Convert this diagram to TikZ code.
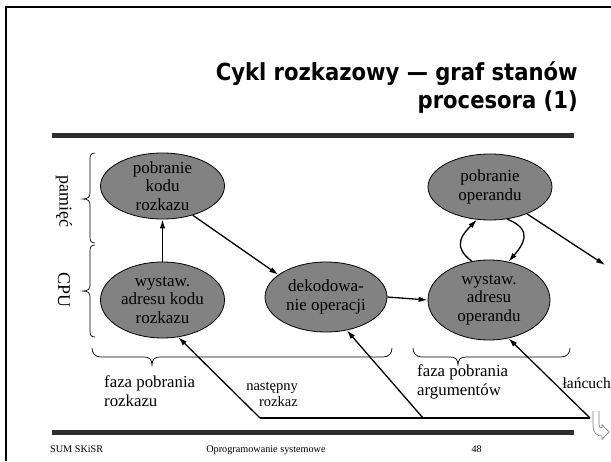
\documentclass[tikz,border=0pt]{standalone}
\usepackage{fontspec}
\setmainfont{Liberation Serif}
\newfontfamily\titlefont{DejaVu Sans Condensed Bold}
\usetikzlibrary{arrows.meta,shapes.geometric}
\definecolor{ellgray}{RGB}{130,130,130}
\definecolor{bargray}{RGB}{45,45,45}
\newcommand\vbr[4]{\draw[bracel] ({#1+5},#2) .. controls ({#1+1},#2) and (#1,{#2+2}) .. (#1,{#2+6}) -- (#1,{#3-6}) .. controls (#1,{#3-2}) and ({#1-2},#3) .. ({#1-7},#3) .. controls ({#1-2},#3) and (#1,{#3+2}) .. (#1,{#3+6}) -- (#1,{#4-6}) .. controls (#1,{#4-2}) and ({#1+1},#4) .. ({#1+5},#4);}
\newcommand\hbr[4]{\draw[bracel] (#1,#4) .. controls (#1,{#4+5}) and ({#1+3},{#4+9}) .. ({#1+9},{#4+9}) -- ({#2-8},{#4+9}) .. controls ({#2-3},{#4+9}) and (#2,{#4+11}) .. (#2,{#4+17}) .. controls (#2,{#4+11}) and ({#2+3},{#4+9}) .. ({#2+8},{#4+9}) -- ({#3-9},{#4+9}) .. controls ({#3-3},{#4+9}) and (#3,{#4+5}) .. (#3,#4);}
\begin{document}
\begin{tikzpicture}[x=1pt,y=-1pt,
  state/.style={ellipse, draw=black, line width=0.8pt, fill=ellgray, inner sep=0pt},
  txt/.style={align=center, inner sep=0pt, font=\fontsize{17}{18.5}\selectfont},
  conn/.style={line width=1.3pt, -{Latex[length=9pt,width=5.5pt]}},
  bracel/.style={line width=0.7pt},
  lbl/.style={inner sep=0pt, align=left, font=\fontsize{16.8}{18.5}\selectfont},
  lbls/.style={inner sep=0pt, align=right, font=\fontsize{14.5}{16}\selectfont},
  side/.style={inner sep=0pt, rotate=-90, font=\fontsize{18}{20}\selectfont},
  foot/.style={inner sep=0pt, font=\fontsize{10.2}{12}\selectfont},
  ttl/.style={inner sep=0pt, font=\titlefont\fontsize{23.5}{28}\selectfont}]
\useasboundingbox (0,0) rectangle (611,461);
\fill[white] (0,0) rectangle (611,461);
% frame
\draw[line width=2.2pt] (6,461) -- (6,7) -- (611,7);
% title
\node[ttl, anchor=base east] (t1) at (578,80) {Cykl rozkazowy — graf stanów};
\node[ttl, anchor=base east] (t2) at (578,108) {procesora (1)};
% bars
\fill[bargray] (52,133) rectangle (574,138);
\fill[bargray] (52,430) rectangle (574,435);
% footer
\node[foot, anchor=base west] (fa) at (50,452) {SUM SKiSR};
\node[foot, anchor=base] (fb) at (266,452) {Oprogramowanie systemowe};
\node[foot, anchor=base east] (fc) at (482,452) {48};
% states
\node[state, minimum width=124pt, minimum height=66pt] (p1) at (162.5,186) {};
\node[txt] at (p1) {pobranie\\kodu\\rozkazu};
\node[state, minimum width=124pt, minimum height=76pt] (w1) at (162.5,300) {};
\node[txt] at (w1) {wystaw.\\adresu kodu\\rozkazu};
\node[state, minimum width=122pt, minimum height=70pt] (dek) at (326,297) {};
\node[txt] at (dek) {dekodowa-\\nie operacji};
\node[state, minimum width=124pt, minimum height=66pt] (pop) at (490,187) {};
\node[txt] at (pop) {pobranie\\operandu};
\node[state, minimum width=122pt, minimum height=80pt] (wop) at (489,300) {};
\node[txt] at (wop) {wystaw.\\adresu\\operandu};
% connectors
\draw[conn] (w1.north) -- (p1.south);
\draw[conn] (p1.-44) -- (dek.155);
\draw[conn] (dek.east) -- (wop.west);
\draw[conn] (wop.114) .. controls (450,245) and (465,232) .. (pop.248);
\draw[conn] (pop.-62) .. controls (535,230) and (522,246) .. (wop.63);
\coordinate (fe) at (605,265);
\draw[conn] (pop.-36) -- (fe);
\coordinate (b1) at (260,418);
\coordinate (b2) at (423,418);
\coordinate (b3) at (590,418);
\draw[line width=1.3pt] (b1) -- (b3);
\draw[conn] (b1) -- (w1.-67);
\draw[conn] (b2) -- (dek.-58);
\draw[conn] (b3) -- (wop.-63);
% braces
\vbr{90}{153}{199}{243}
\vbr{90}{245}{291}{337}
\hbr{92}{152}{392}{348}
\hbr{413}{458}{570}{348}
% labels
\node[side] (lp) at (64,201) {pamięć};
\node[side] (lc) at (64,290) {CPU};
\node[lbl, anchor=west] (f1) at (104,391) {faza pobrania\\rozkazu};
\node[lbl, anchor=west] (f2) at (417,382) {faza pobrania\\argumentów};
\node[lbls, anchor=east] (ns) at (298,394) {następny\\rozkaz};
\node[lbls, anchor=east, font=\fontsize{15.5}{17}\selectfont] (lan) at (611,383) {łańcuch};
% curly arrow symbol
\draw[gray, line width=0.6pt, fill=white] (593,411) -- (593,426) .. controls (593,433) and (597,436) .. (602,436) -- (602,439.5) -- (609,432) -- (602,424.5) -- (602,428) .. controls (600,428) and (599,427) .. (599,424) -- (599,411);
\end{tikzpicture}
\end{document}
